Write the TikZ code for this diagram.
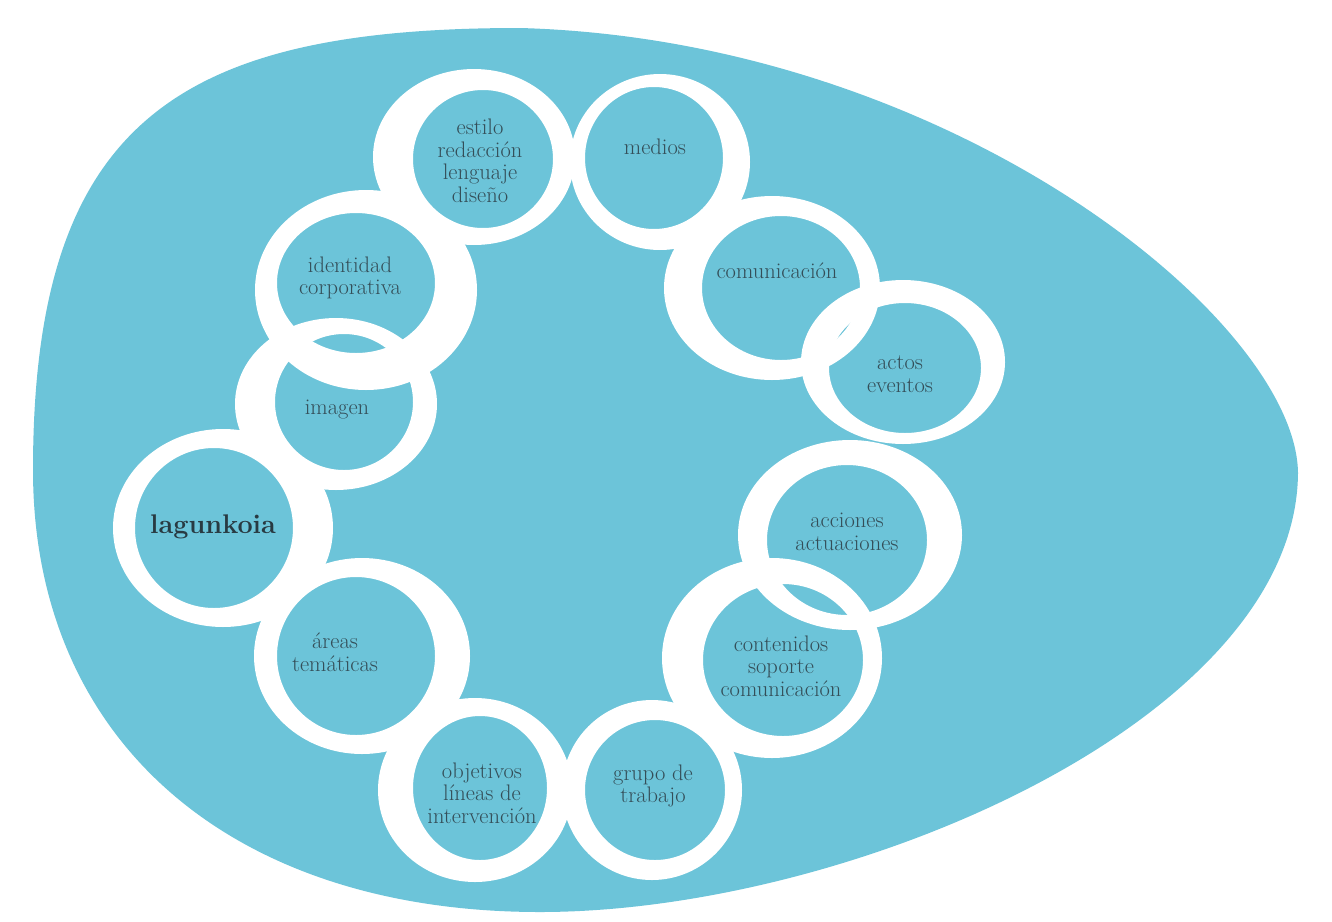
\documentclass[tikz,border=0pt]{standalone}
\usepackage{fontspec}
\definecolor{eggblue}{RGB}{108,196,217}
\definecolor{inkgrey}{RGB}{52,78,88}
\definecolor{inkdark}{RGB}{40,58,66}
\tikzset{
  ringband/.style={fill=white, even odd rule},
  label/.style={text=inkgrey, align=center, font=\fontsize{22.5}{22.5}\selectfont, inner sep=0pt},
  mainlabel/.style={text=inkdark, align=center, font=\fontsize{27}{28}\selectfont\bfseries, inner sep=0pt}
}
\newcommand{\ringshape}[8]{%
  \fill[ringband] (#1,#2) ellipse [x radius=#3pt, y radius=#4pt]
                  (#5,#6) ellipse [x radius=#7pt, y radius=#8pt];}
\begin{document}
\begin{tikzpicture}[x=1pt,y=-1pt]
\useasboundingbox (0,0) rectangle (1332,921);
\fill[white] (0,0) rectangle (1332,921);
% egg
\fill[eggblue] (1298,473) .. controls (1296,320) and (950,40) .. (520,28)
  .. controls (180,28) and (33,120) .. (33,470)
  .. controls (33,740) and (230,912) .. (540,912)
  .. controls (850,912) and (1296,720) .. (1298,473) -- cycle;
% rings
\ringshape{474}{157}{101}{88}{483}{159}{70}{69}     % estilo
\ringshape{660}{162}{90}{88}{654}{158}{69}{71}      % medios
\ringshape{772}{288}{108}{92}{781}{288}{79}{72}     % comunicacion
\ringshape{903}{362}{102}{82}{905}{368}{76}{65}     % actos
\ringshape{850}{535}{112}{95}{847}{540}{80}{75}     % acciones
\ringshape{772}{658}{110}{100}{783}{660}{80}{76}    % contenidos
\ringshape{652}{790}{90}{90}{655}{790}{70}{70}      % grupo
\ringshape{475}{790}{97}{92}{480}{788}{67}{72}      % objetivos
\ringshape{362}{656}{108}{98}{356}{656}{79}{79}     % areas
\ringshape{223}{528}{110}{99}{214}{528}{79}{80}     % lagunkoia
\ringshape{336}{404}{101}{86}{344}{402}{69}{68}     % imagen
\ringshape{366}{290}{111}{100}{356}{283}{79}{70}    % identidad
% labels
\node[label] (estilo) at (480,161) {estilo\\redacción\\lenguaje\\diseño};
\node[label] (medios) at (655,147) {medios};
\node[label] (comunicacion) at (777,271) {comunicación};
\node[label] (actos) at (900,374) {actos\\eventos};
\node[label] (acciones) at (847,532) {acciones\\actuaciones};
\node[label] (contenidos) at (781,666) {contenidos\\soporte\\comunicación};
\node[label] (grupo) at (653,786) {grupo de\\trabajo};
\node[label] (objetivos) at (482,793) {objetivos\\líneas de\\intervención};
\node[label] (areas) at (335,652) {áreas\\temáticas};
\node[mainlabel] (lagunkoia) at (213,527) {lagunkoia};
\node[label] (imagen) at (337,410) {imagen};
\node[label] (identidad) at (350,278) {identidad\\corporativa};
\end{tikzpicture}
\end{document}
